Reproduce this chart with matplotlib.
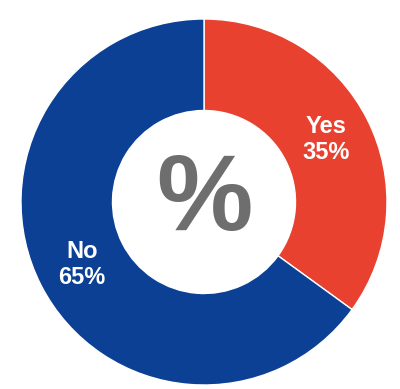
import matplotlib
matplotlib.use("Agg")
import matplotlib.pyplot as plt

labels = ["Yes", "No"]
values = [35, 65]
colors = ["#E8412F", "#0B4095"]

fig = plt.figure(figsize=(4, 3.89), dpi=100)
ax = fig.add_axes([0, 0, 1, 1])

texts = [f"{l}\n{v}%" for l, v in zip(labels, values)]
wedges, lbls = ax.pie(values, colors=colors, startangle=90, counterclock=False,
                      labels=texts, labeldistance=0.75,
                      wedgeprops=dict(width=0.5, edgecolor="white", linewidth=1),
                      textprops=dict(color="white", fontsize=17, fontweight="bold",
                                     family="Liberation Sans", linespacing=1.15))
for t in lbls:
    t.set_ha("center")
    t.set_va("center")

ax.text(0, 0.0, "%", ha="center", va="center", fontsize=78, fontweight="bold",
        color="#6E6E6E", family="Liberation Sans")

# map the unit circle onto the picture's pixels
ax.set_xlim(-204 / 183, 196 / 183)
ax.set_ylim(-187 / 183, 202 / 183)
ax.set_aspect("auto")
ax.axis("off")

fig.savefig("out.png", dpi=100, facecolor="white")
